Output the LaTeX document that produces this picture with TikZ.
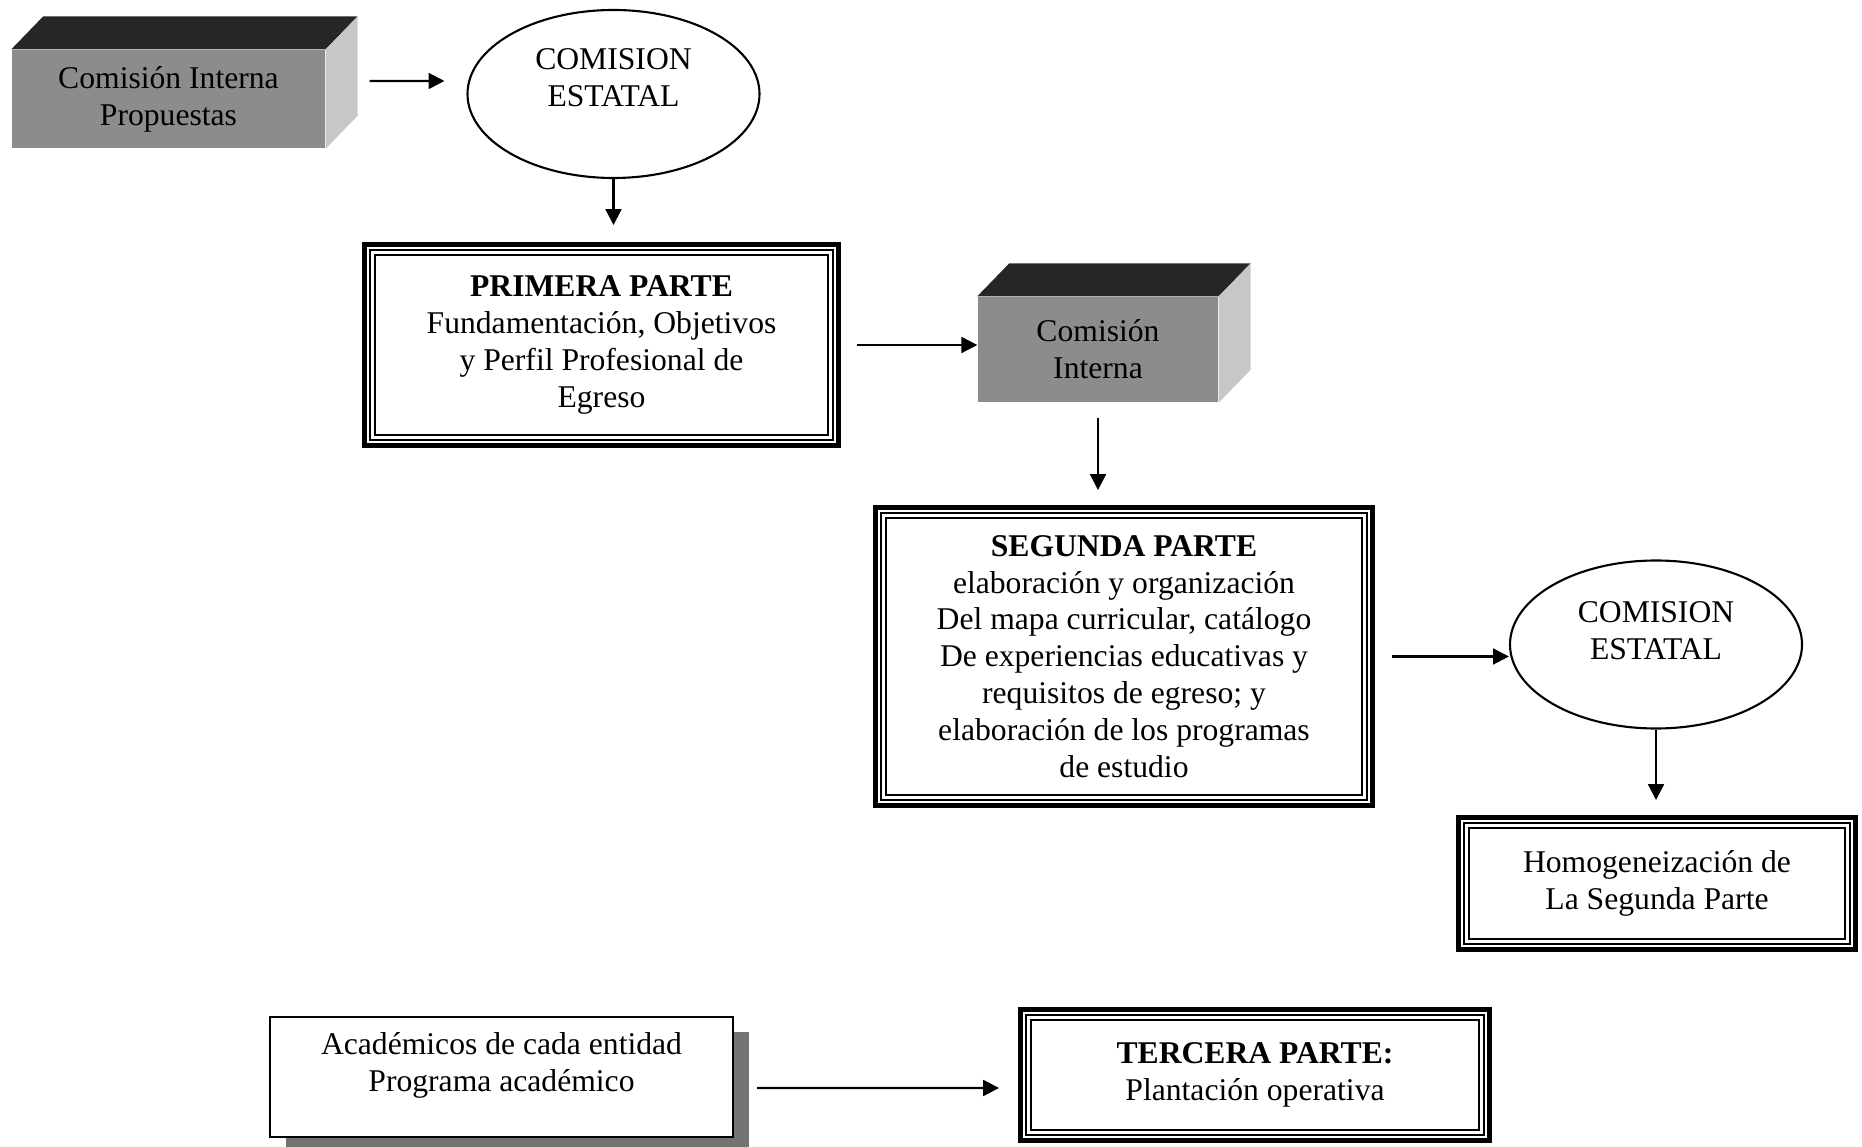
\documentclass[tikz,border=0pt]{standalone}
\usepackage{fontspec}
\setmainfont{Liberation Serif}
\usetikzlibrary{arrows.meta, positioning, shapes.geometric, shadows}

\definecolor{frontgray}{gray}{0.55}
\definecolor{topgray}{gray}{0.15}
\definecolor{sidegray}{gray}{0.78}
\definecolor{shadowgray}{gray}{0.45}

\begin{document}
\begin{tikzpicture}[
  font=\fontsize{9pt}{10.5pt}\selectfont,
  block/.style={fill=frontgray, align=center, inner sep=0pt},
  tribox/.style={draw, line width=1.4pt, fill=white, align=center, inner sep=0pt,
    path picture={\draw[line width=.5pt, double, double distance=.9pt]
      ([shift={(2.3pt,2.3pt)}]path picture bounding box.south west) rectangle
      ([shift={(-2.3pt,-2.3pt)}]path picture bounding box.north east);}},
  council/.style={draw, ellipse, line width=.6pt, minimum width=2.92cm, minimum height=1.68cm, inner sep=0pt},
  shadowbox/.style={draw, line width=.6pt, fill=white, inner sep=0pt,
    drop shadow={shadow xshift=.16cm, shadow yshift=-.15cm, fill=shadowgray, opacity=1}},
  flow/.style={-{Triangle[length=4.5pt, width=4.5pt]}, line width=.6pt}
]
  \useasboundingbox (0,0) rectangle (18.62,-11.47);

  \node[block, minimum width=3.13cm, minimum height=.98cm] (cint1) at (1.685,-.99) {Comisión Interna\\Propuestas};
  \node[council, label={[align=center, yshift=.16cm]center:COMISION\\ESTATAL}] (est1) at (6.135,-.94) {};
  \node[tribox, minimum width=4.74cm, minimum height=2.01cm] (prim) at (6.015,-3.45)
    {\textbf{PRIMERA PARTE}\\Fundamentación, Objetivos\\y Perfil Profesional de\\Egreso};
  \node[block, minimum width=2.4cm, minimum height=1.05cm] (cint2) at (10.98,-3.495) {Comisión\\Interna};
  \node[tribox, minimum width=4.97cm, minimum height=2.98cm] (seg) at (11.24,-6.565)
    {\textbf{SEGUNDA PARTE}\\elaboración y organización\\Del mapa curricular, catálogo\\De experiencias educativas y\\requisitos de egreso; y\\elaboración de los programas\\de estudio};
  \node[council, label={[align=center, yshift=.14cm]center:COMISION\\ESTATAL}] (est2) at (16.56,-6.445) {};
  \node[tribox, minimum width=3.97cm, minimum height=1.32cm] (homog) at (16.57,-8.835) {Homogeneización de\\La Segunda Parte};
  \node[shadowbox, minimum width=4.63cm, minimum height=1.2cm,
    label={[align=center, yshift=.12cm]center:Académicos de cada entidad\\Programa académico}] (acad) at (5.015,-10.77) {};
  \node[tribox, minimum width=4.69cm, minimum height=1.31cm] (terc) at (12.55,-10.75) {\textbf{TERCERA PARTE:}\\Plantación operativa};

  % top and side faces of the blocks
  \foreach \b in {cint1, cint2} {
    \fill[topgray] (\b.north west) -- ++(.32,.33) -- ([shift={(.32,.33)}]\b.north east) -- (\b.north east) -- cycle;
    \fill[sidegray] (\b.north east) -- ++(.32,.33) -- ([shift={(.32,.33)}]\b.south east) -- (\b.south east) -- cycle;
  }

  \draw[flow, shorten <=.44cm, shorten >=.22cm] ([yshift=.18cm]cint1.east) -- ([yshift=.13cm]est1.west);
  \draw[flow, shorten >=.17cm] (est1.south) -- (est1.south |- prim.north);
  \draw[flow, shorten <=.165cm] (prim.east) -- (prim.east -| cint2.west);
  \draw[flow, shorten <=.15cm, shorten >=.15cm] (cint2.south) -- (cint2.south |- seg.north);
  \draw[flow, shorten <=.17cm] (seg.east) -- (seg.east -| est2.west);
  \draw[flow, shorten >=.15cm] (est2.south) -- (est2.south |- homog.north);
  \draw[flow, shorten <=.23cm, shorten >=.19cm] ([yshift=-.11cm]acad.east) -- ([yshift=-.13cm]terc.west);
\end{tikzpicture}
\end{document}
